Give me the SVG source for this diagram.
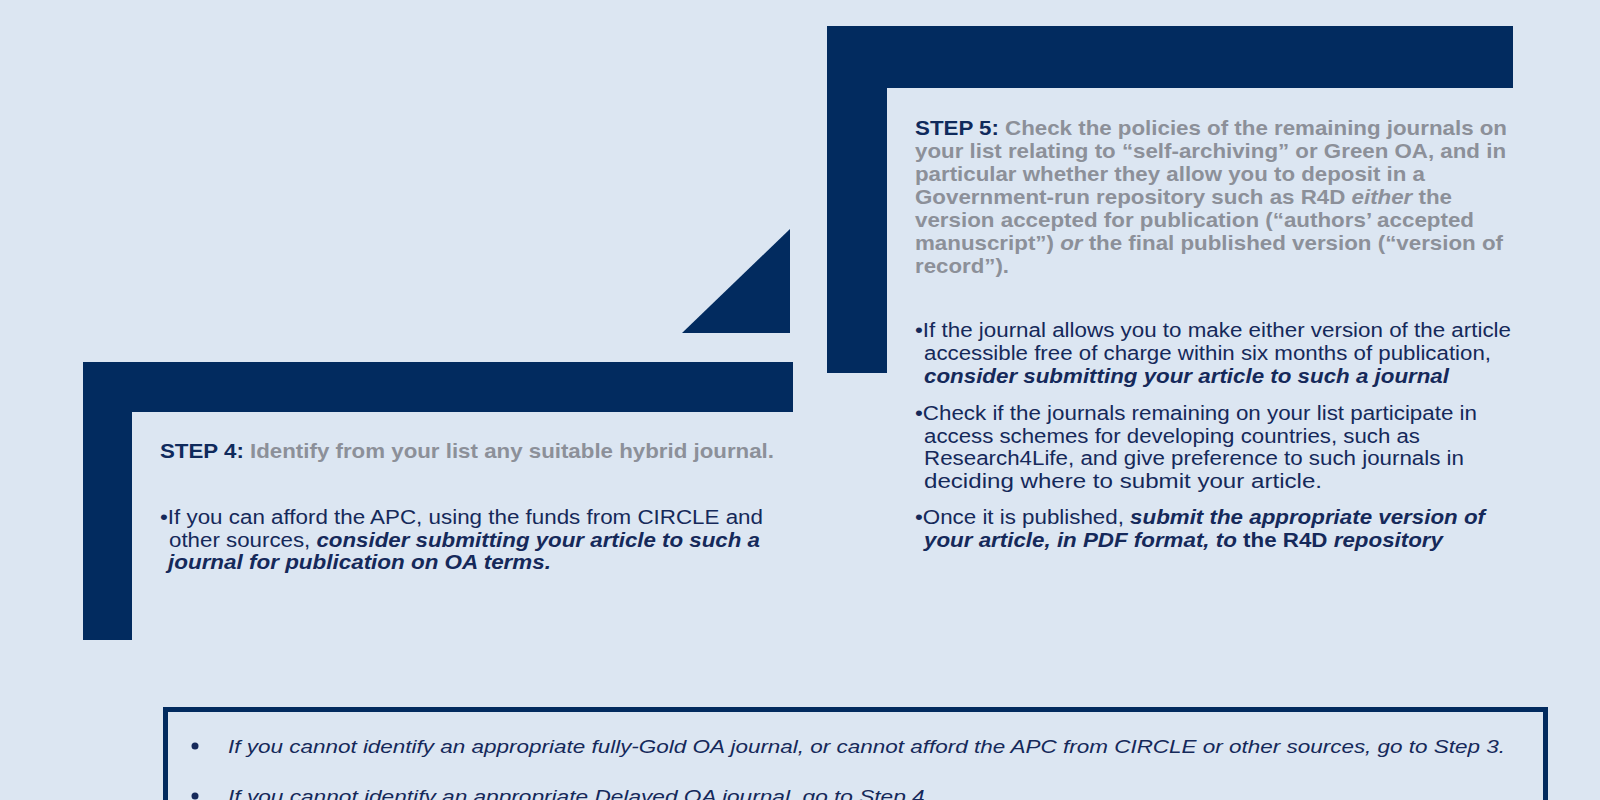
<svg xmlns="http://www.w3.org/2000/svg" width="1600" height="800" viewBox="0 0 1600 800">
<style>
.bar{fill:#022b5f}
text{font-family:"Liberation Sans Narrow","Liberation Sans",Arial,sans-serif}
.hd{font-size:21px;font-weight:bold;fill:#8c9099}
.st{fill:#0f2a5c}
.bl{font-size:20px;fill:#15295a}
.em{font-weight:bold;font-style:italic}
.up{font-weight:bold}
.bt{font-size:19px;font-style:italic;fill:#15295a}
</style>
<rect width="1600" height="800" fill="#dce6f2"/>
<g id="step5">
<rect class="bar" x="827" y="26" width="686" height="62"/>
<rect class="bar" x="827" y="26" width="60" height="347"/>
<text class="hd" x="915" y="135" textLength="592" lengthAdjust="spacingAndGlyphs"><tspan class="st">STEP 5:</tspan> Check the policies of the remaining journals on</text>
<text class="hd" x="915" y="158" textLength="591" lengthAdjust="spacingAndGlyphs">your list relating to “self-archiving” or Green OA, and in</text>
<text class="hd" x="915" y="181" textLength="510" lengthAdjust="spacingAndGlyphs">particular whether they allow you to deposit in a</text>
<text class="hd" x="915" y="204" textLength="537" lengthAdjust="spacingAndGlyphs">Government-run repository such as R4D <tspan font-style="italic">either</tspan> the</text>
<text class="hd" x="915" y="227" textLength="559" lengthAdjust="spacingAndGlyphs">version accepted for publication (“authors’ accepted</text>
<text class="hd" x="915" y="250" textLength="588" lengthAdjust="spacingAndGlyphs">manuscript”) <tspan font-style="italic">or</tspan> the final published version (“version of</text>
<text class="hd" x="915" y="273" textLength="94" lengthAdjust="spacingAndGlyphs">record”).</text>
<text class="bl" x="915" y="337" textLength="596" lengthAdjust="spacingAndGlyphs">•If the journal allows you to make either version of the article</text>
<text class="bl" x="924" y="360" textLength="567" lengthAdjust="spacingAndGlyphs">accessible free of charge within six months of publication,</text>
<text class="bl em" x="924" y="383" textLength="525" lengthAdjust="spacingAndGlyphs">consider submitting your article to such a journal</text>
<text class="bl" x="915" y="420" textLength="562" lengthAdjust="spacingAndGlyphs">•Check if the journals remaining on your list participate in</text>
<text class="bl" x="924" y="443" textLength="496" lengthAdjust="spacingAndGlyphs">access schemes for developing countries, such as</text>
<text class="bl" x="924" y="465" textLength="540" lengthAdjust="spacingAndGlyphs">Research4Life, and give preference to such journals in</text>
<text class="bl" x="924" y="488" textLength="398" lengthAdjust="spacingAndGlyphs">deciding where to submit your article.</text>
<text class="bl" x="915" y="524" textLength="570" lengthAdjust="spacingAndGlyphs">•Once it is published, <tspan class="em">submit the appropriate version of</tspan></text>
<text class="bl" x="924" y="547" textLength="519" lengthAdjust="spacingAndGlyphs"><tspan class="em">your article, in PDF format, to </tspan><tspan class="up">the R4D</tspan><tspan class="em"> repository</tspan></text>
</g>
<g id="arrow">
<polygon class="bar" points="682,333 790,229 790,333"/>
</g>
<g id="step4">
<rect class="bar" x="83" y="362" width="710" height="50"/>
<rect class="bar" x="83" y="362" width="49" height="278"/>
<text class="hd" x="160" y="458" textLength="614" lengthAdjust="spacingAndGlyphs"><tspan class="st">STEP 4:</tspan> Identify from your list any suitable hybrid journal.</text>
<text class="bl" x="160" y="524" textLength="603" lengthAdjust="spacingAndGlyphs">•If you can afford the APC, using the funds from CIRCLE and</text>
<text class="bl" x="169" y="547" textLength="591" lengthAdjust="spacingAndGlyphs">other sources, <tspan class="em">consider submitting your article to such a</tspan></text>
<text class="bl em" x="168" y="569" textLength="383" lengthAdjust="spacingAndGlyphs">journal for publication on OA terms.</text>
</g>
<g id="notes">
<rect x="165.5" y="709.5" width="1380" height="200" fill="none" stroke="#022b5f" stroke-width="5"/>
<circle cx="195" cy="746" r="3.5" fill="#15295a"/>
<text class="bt" x="228" y="753" textLength="1277" lengthAdjust="spacingAndGlyphs">If you cannot identify an appropriate fully-Gold OA journal, or cannot afford the APC from CIRCLE or other sources, go to Step 3.</text>
<circle cx="195" cy="796" r="3.5" fill="#15295a"/>
<text class="bt" x="228" y="803" textLength="703" lengthAdjust="spacingAndGlyphs">If you cannot identify an appropriate Delayed OA journal, go to Step 4.</text>
</g>
</svg>
